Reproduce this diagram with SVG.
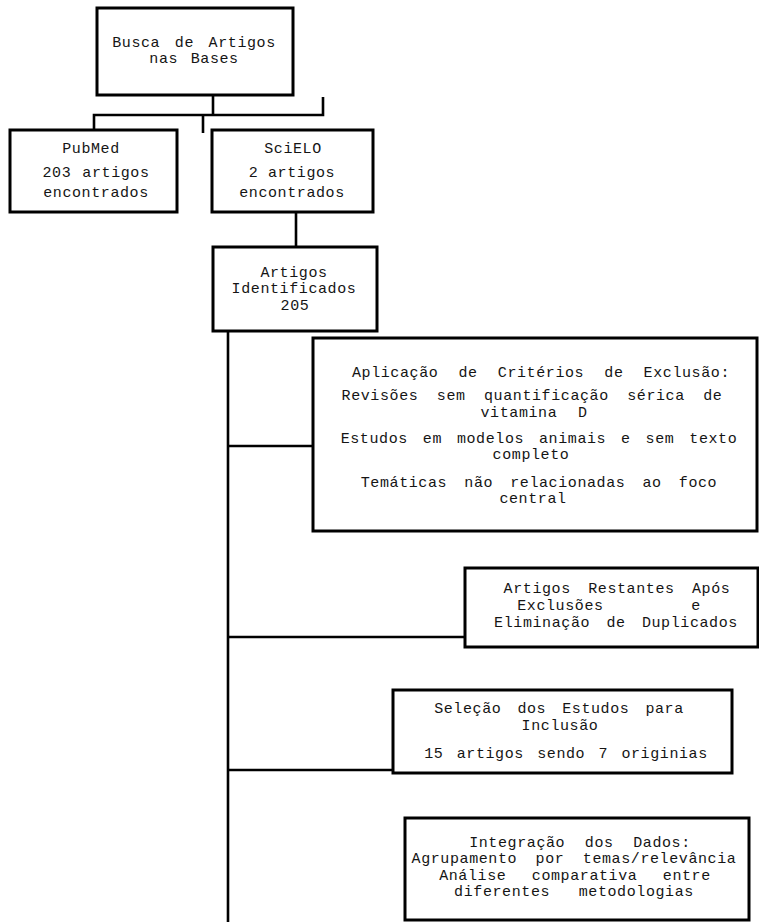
<svg xmlns="http://www.w3.org/2000/svg" width="759" height="922" viewBox="0 0 759 922">
<style>
.box{fill:#fff;stroke:#000;stroke-width:3}
.con{fill:none;stroke:#000;stroke-width:2.6}
text{font-family:"Liberation Mono","Courier New",monospace;font-size:15px;letter-spacing:0.6px;fill:#151515;text-anchor:middle}
</style>
<rect width="759" height="922" fill="#fff"/>
<g id="connectors">
<path class="con" d="M213 95V115"/>
<path class="con" d="M94 130V115H323V97"/>
<path class="con" d="M203 115V133"/>
<path class="con" d="M296 212V247"/>
<path class="con" d="M228 331V922"/>
<path class="con" d="M228 446H313"/>
<path class="con" d="M228 637H465"/>
<path class="con" d="M228 770H393"/>
</g>
<g id="busca">
<rect class="box" x="97" y="8" width="196" height="87"/>
<text x="194" y="47" style="word-spacing:5px">Busca de Artigos</text>
<text x="194" y="63" style="word-spacing:3px">nas Bases</text>
</g>
<g id="pubmed">
<rect class="box" x="10" y="130" width="167" height="82"/>
<text x="91" y="153">PubMed</text>
<text x="96" y="177" style="word-spacing:1.5px">203 artigos</text>
<text x="96" y="197">encontrados</text>
</g>
<g id="scielo">
<rect class="box" x="212" y="130" width="161" height="82"/>
<text x="293" y="153">SciELO</text>
<text x="292" y="177">2 artigos</text>
<text x="292" y="197">encontrados</text>
</g>
<g id="identificados">
<rect class="box" x="213" y="247" width="164" height="84"/>
<text x="294" y="277">Artigos</text>
<text x="294" y="293">Identificados</text>
<text x="295" y="310">205</text>
</g>
<g id="exclusao">
<rect class="box" x="313" y="338" width="444" height="193"/>
<text x="541" y="377" style="word-spacing:10.5px">Aplicação de Critérios de Exclusão:</text>
<text x="532" y="400" style="word-spacing:8.8px">Revisões sem quantificação sérica de</text>
<text x="534" y="417" style="word-spacing:11px">vitamina D</text>
<text x="539" y="443" style="word-spacing:5.3px">Estudos em modelos animais e sem texto</text>
<text x="531" y="459">completo</text>
<text x="539" y="487" style="word-spacing:7.5px">Temáticas não relacionadas ao foco</text>
<text x="533" y="503">central</text>
</g>
<g id="restantes">
<rect class="box" x="465" y="568" width="293" height="79"/>
<text x="617" y="593" style="word-spacing:7.8px">Artigos Restantes Após</text>
<text x="609" y="610" style="word-spacing:78px">Exclusões e</text>
<text x="616" y="627" style="word-spacing:6.7px">Eliminação de Duplicados</text>
</g>
<g id="selecao">
<rect class="box" x="393" y="690" width="339" height="83"/>
<text x="559" y="713" style="word-spacing:6.4px">Seleção dos Estudos para</text>
<text x="560" y="730">Inclusão</text>
<text x="566" y="758" style="word-spacing:3.7px">15 artigos sendo 7 originias</text>
</g>
<g id="integracao">
<rect class="box" x="405" y="818" width="344" height="102"/>
<text x="580" y="847" style="word-spacing:10px">Integração dos Dados:</text>
<text x="574" y="863" style="word-spacing:8.8px">Agrupamento por temas/relevância</text>
<text x="575" y="880" style="word-spacing:15.8px">Análise comparativa entre</text>
<text x="574" y="896" style="word-spacing:19px">diferentes metodologias</text>
</g>
</svg>
